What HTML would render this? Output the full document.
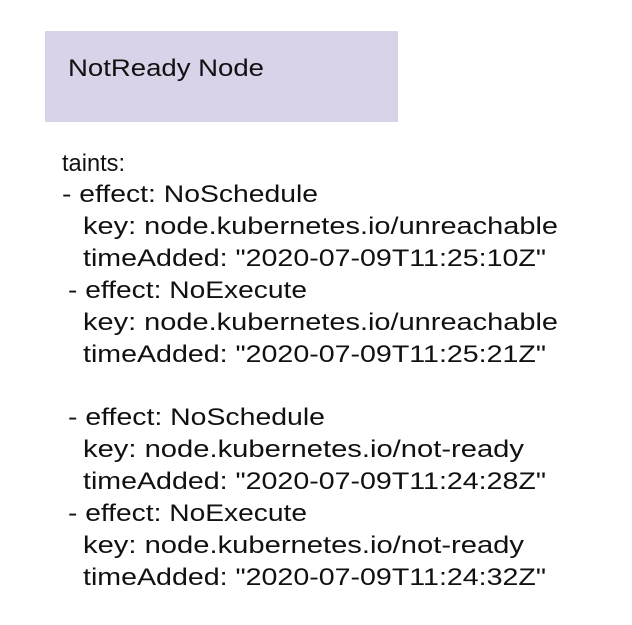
<!DOCTYPE html>
<html><head><meta charset="utf-8"><style>
html,body{margin:0;padding:0;background:#fff;}
svg{display:block}
text{font-family:"Liberation Sans",sans-serif;fill:#111;font-size:24px}
</style></head><body>
<svg width="632" height="625" viewBox="0 0 632 625" xmlns="http://www.w3.org/2000/svg">
<rect x="0" y="0" width="632" height="625" fill="#fff"/>
<rect x="45" y="31" width="353" height="91" fill="#d9d2e8"/>
<text x="68" y="76" textLength="196" lengthAdjust="spacingAndGlyphs">NotReady Node</text>
<text x="62" y="171" textLength="63" lengthAdjust="spacingAndGlyphs">taints:</text>
<text x="62" y="202" textLength="256" lengthAdjust="spacingAndGlyphs">- effect: NoSchedule</text>
<text x="83" y="234" textLength="475" lengthAdjust="spacingAndGlyphs">key: node.kubernetes.io/unreachable</text>
<text x="83" y="266" textLength="463" lengthAdjust="spacingAndGlyphs">timeAdded: "2020-07-09T11:25:10Z"</text>
<text x="68" y="298" textLength="239" lengthAdjust="spacingAndGlyphs">- effect: NoExecute</text>
<text x="83" y="330" textLength="475" lengthAdjust="spacingAndGlyphs">key: node.kubernetes.io/unreachable</text>
<text x="83" y="362" textLength="463" lengthAdjust="spacingAndGlyphs">timeAdded: "2020-07-09T11:25:21Z"</text>
<text x="68" y="425" textLength="257" lengthAdjust="spacingAndGlyphs">- effect: NoSchedule</text>
<text x="83" y="457" textLength="441" lengthAdjust="spacingAndGlyphs">key: node.kubernetes.io/not-ready</text>
<text x="83" y="489" textLength="463" lengthAdjust="spacingAndGlyphs">timeAdded: "2020-07-09T11:24:28Z"</text>
<text x="68" y="521" textLength="239" lengthAdjust="spacingAndGlyphs">- effect: NoExecute</text>
<text x="83" y="553" textLength="441" lengthAdjust="spacingAndGlyphs">key: node.kubernetes.io/not-ready</text>
<text x="83" y="585" textLength="463" lengthAdjust="spacingAndGlyphs">timeAdded: "2020-07-09T11:24:32Z"</text>
</svg>
</body></html>
